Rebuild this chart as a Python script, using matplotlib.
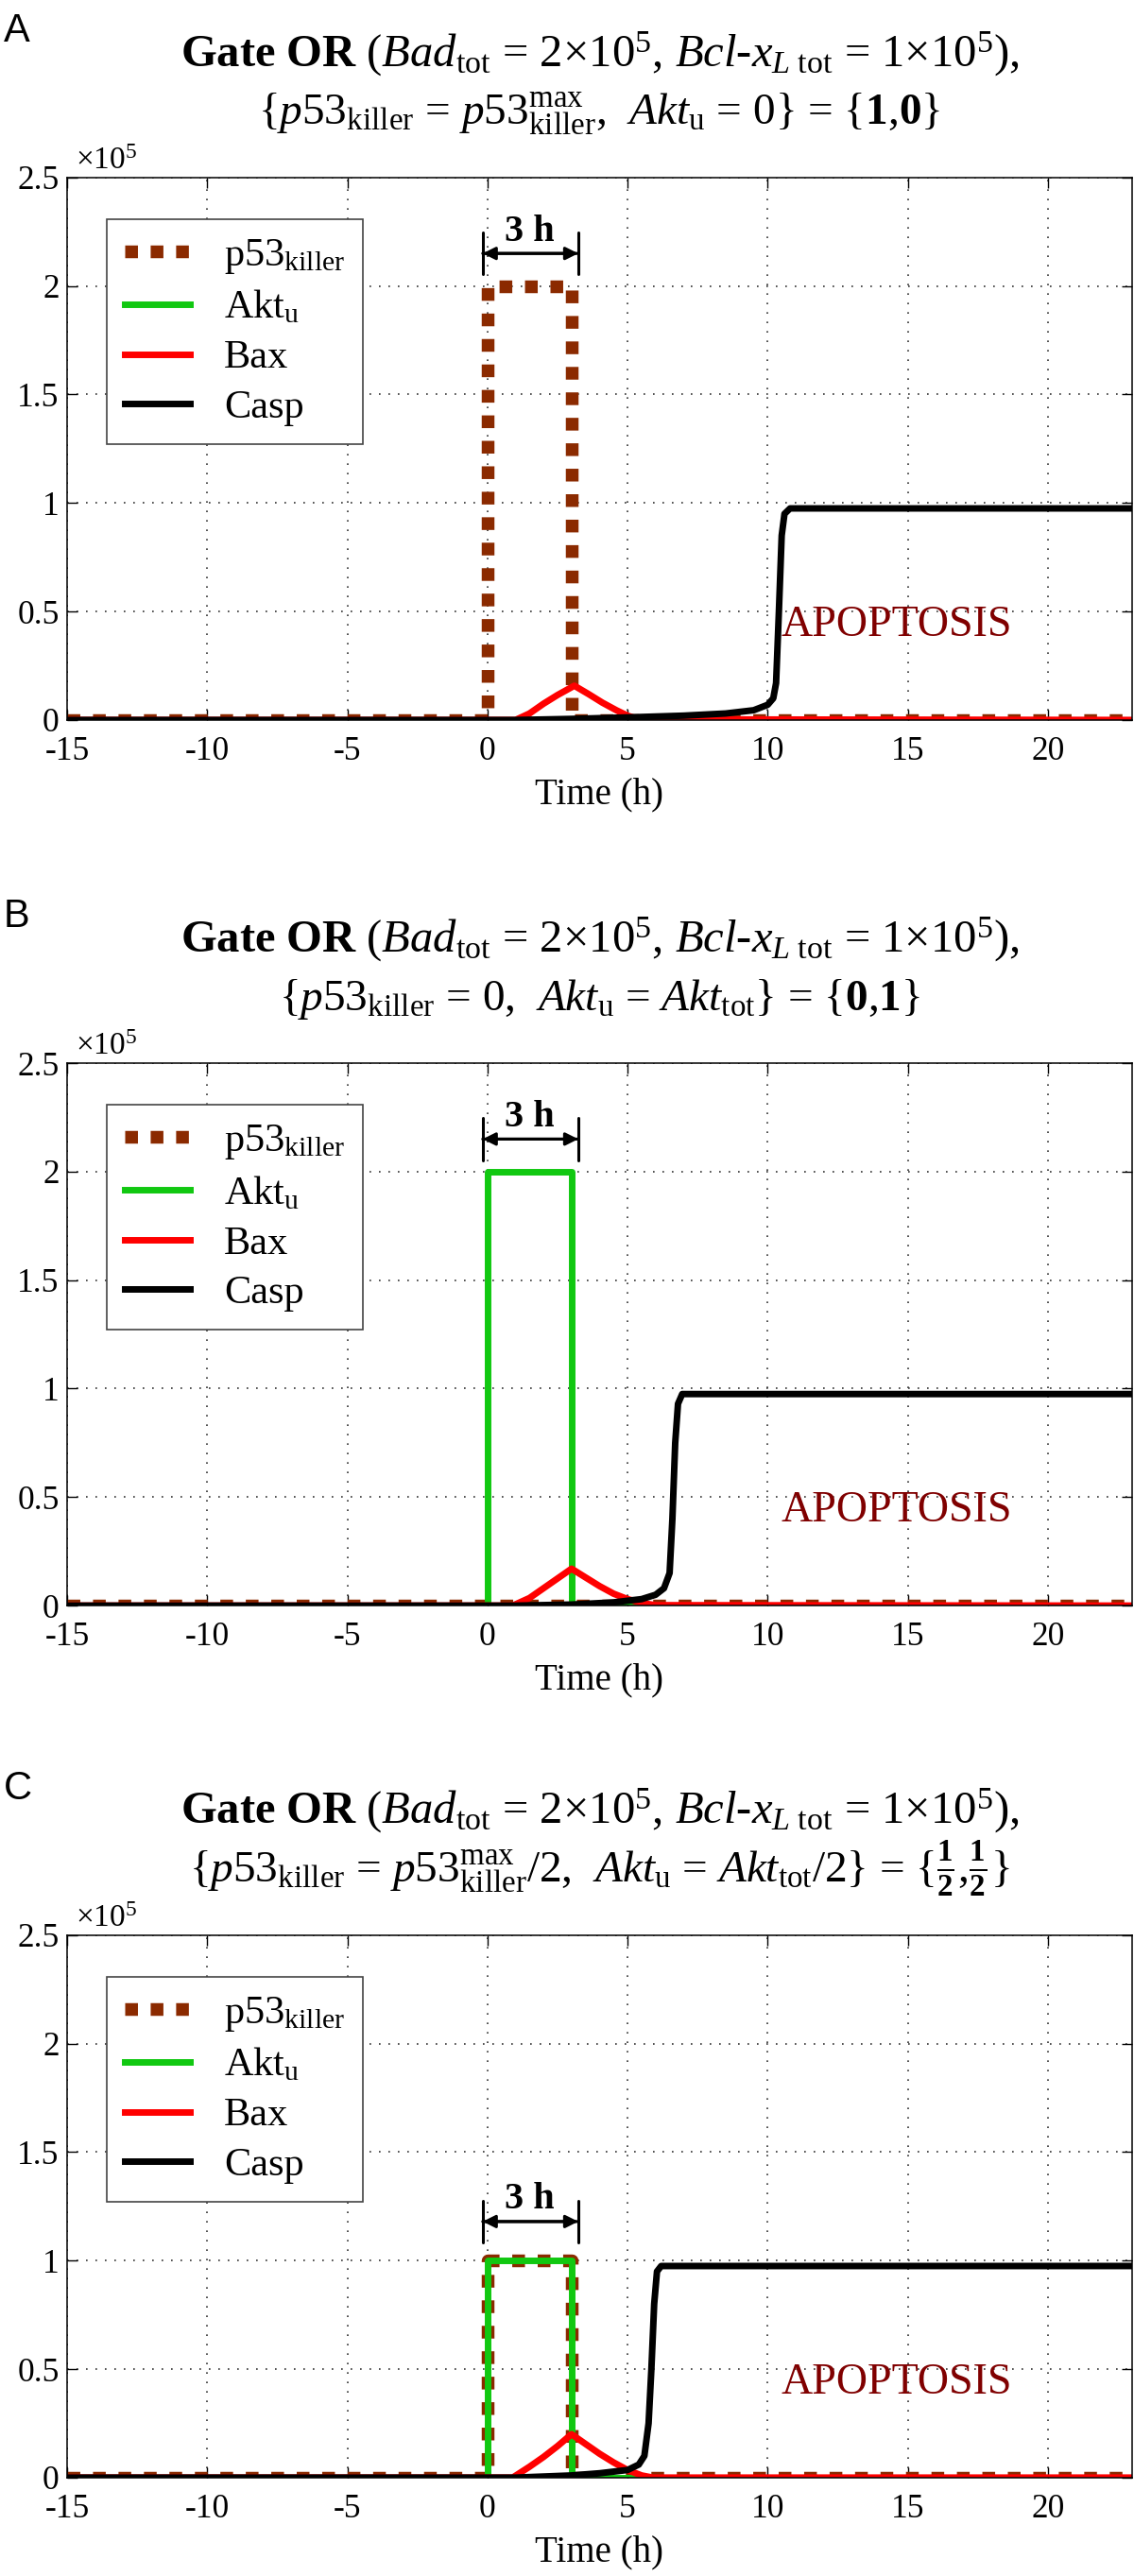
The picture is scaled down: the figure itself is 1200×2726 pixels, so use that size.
import matplotlib
matplotlib.use('Agg')
import matplotlib.pyplot as plt
from matplotlib.ticker import FuncFormatter, MultipleLocator

SERIF = 'Liberation Serif'
plt.rcParams['font.family'] = [SERIF, 'DejaVu Serif']
plt.rcParams['mathtext.fontset'] = 'custom'
plt.rcParams['mathtext.rm'] = SERIF
plt.rcParams['mathtext.it'] = SERIF + ':italic'
plt.rcParams['mathtext.bf'] = SERIF + ':bold'
plt.rcParams['axes.unicode_minus'] = False

# time points of the 3 h pulse
t_pulse = [-15, 0, 0, 3, 3, 23]

# p53 killer pulse per panel
p53_A = [0, 0, 2e5, 2e5, 0, 0]
p53_B = [0, 0, 0, 0, 0, 0]
p53_C = [0, 0, 1e5, 1e5, 0, 0]

# Akt_u pulse per panel
akt_A = [0, 0, 0, 0, 0, 0]
akt_B = [0, 0, 2e5, 2e5, 0, 0]
akt_C = [0, 0, 1e5, 1e5, 0, 0]

# Bax
t_bax_A = [-15, 1.0, 1.5, 2.0, 2.5, 3.1, 3.6, 4.1, 4.6, 5.0, 5.4, 23]
bax_A = [0, 0, 0.03e5, 0.075e5, 0.115e5, 0.158e5, 0.12e5, 0.08e5, 0.045e5, 0.02e5, 0.003e5, 0]
t_bax_B = [-15, 0.9, 1.5, 2.0, 2.5, 3.0, 3.5, 4.0, 4.5, 5.0, 5.5, 6.0, 23]
bax_B = [0, 0, 0.035e5, 0.08e5, 0.125e5, 0.17e5, 0.13e5, 0.09e5, 0.055e5, 0.03e5, 0.012e5, 0.002e5, 0]
t_bax_C = [-15, 0.9, 1.5, 2.0, 2.5, 3.0, 3.5, 4.0, 4.5, 5.0, 5.5, 5.9, 23]
bax_C = [0, 0, 0.05e5, 0.095e5, 0.145e5, 0.2e5, 0.155e5, 0.11e5, 0.07e5, 0.035e5, 0.01e5, 0, 0]

# Casp
t_casp_A = [-15, 1, 3, 5, 7, 8.5, 9.5, 10.0, 10.2, 10.3, 10.4, 10.5, 10.6, 10.8, 23]
casp_A = [0, 0, 0.005e5, 0.012e5, 0.02e5, 0.03e5, 0.045e5, 0.07e5, 0.1e5, 0.17e5, 0.5e5, 0.85e5, 0.95e5, 0.975e5, 0.975e5]
t_casp_B = [-15, 1, 3, 4.5, 5.5, 6.0, 6.3, 6.5, 6.6, 6.7, 6.8, 6.95, 23]
casp_B = [0, 0, 0.005e5, 0.015e5, 0.03e5, 0.05e5, 0.08e5, 0.15e5, 0.4e5, 0.75e5, 0.93e5, 0.975e5, 0.975e5]
t_casp_C = [-15, 1, 3, 4, 5, 5.4, 5.6, 5.75, 5.85, 5.95, 6.05, 6.2, 23]
casp_C = [0, 0, 0.01e5, 0.02e5, 0.035e5, 0.06e5, 0.1e5, 0.25e5, 0.5e5, 0.8e5, 0.95e5, 0.975e5, 0.975e5]

letters = ['A', 'B', 'C']
line1 = r'$\mathbf{Gate\ OR}$ ($Bad_{\mathrm{tot}}$ = 2$\times$10$^5$, $Bcl$-$x_{L\ \mathrm{tot}}$ = 1$\times$10$^5$),'
line2 = [
    r'{$p$53$_{\mathrm{killer}}$ = $p$53$^{\mathrm{max}}_{\mathrm{killer}}$,  $Akt_{\mathrm{u}}$ = 0} = {$\mathbf{1}$,$\mathbf{0}$}',
    r'{$p$53$_{\mathrm{killer}}$ = 0,  $Akt_{\mathrm{u}}$ = $Akt_{\mathrm{tot}}$} = {$\mathbf{0}$,$\mathbf{1}$}',
    r'{$p$53$_{\mathrm{killer}}$ = $p$53$^{\mathrm{max}}_{\mathrm{killer}}$/2,  $Akt_{\mathrm{u}}$ = $Akt_{\mathrm{tot}}$/2} = {$\frac{\mathbf{1}}{\mathbf{2}}$,$\frac{\mathbf{1}}{\mathbf{2}}$}',
]
arrow_y = [2.15e5, 2.15e5, 1.18e5]

panels = [
    (p53_A, akt_A, t_bax_A, bax_A, t_casp_A, casp_A),
    (p53_B, akt_B, t_bax_B, bax_B, t_casp_B, casp_B),
    (p53_C, akt_C, t_bax_C, bax_C, t_casp_C, casp_C),
]
bottoms = [0.7205, 0.3767, 0.0382]

fig = plt.figure(figsize=(12, 27.26), dpi=100)

for i, (p53, akt, tb, bax, tc, casp) in enumerate(panels):
    ax = fig.add_axes([0.0592, bottoms[i], 0.939, 0.2106])
    ax.plot(t_pulse, p53, color='#8b2a00', lw=9.7, ls=(0, (1, 1)), dash_capstyle='butt',
            label=r'p53$_{\mathrm{killer}}$')
    ax.plot(t_pulse, akt, color='#11c811', lw=5, label=r'Akt$_{\mathrm{u}}$')
    ax.plot(tb, bax, color='#ff0000', lw=5, label='Bax')
    ax.plot(tc, casp, color='black', lw=5, label='Casp')

    ax.set_xlim(-15, 23)
    ax.set_ylim(0, 2.5e5)
    ax.xaxis.set_major_locator(MultipleLocator(5))
    ax.yaxis.set_major_locator(MultipleLocator(0.5e5))
    ax.yaxis.set_major_formatter(FuncFormatter(lambda v, p: f'{v / 1e5:g}'))
    ax.tick_params(direction='in', top=True, right=True, length=8, width=1, labelsize=25.5,
                   labelfontfamily=SERIF)
    ax.tick_params(axis='x', pad=12)
    ax.tick_params(axis='y', pad=6)
    ax.grid(True, color='#333333', lw=1.2, ls=(0, (1, 5)))
    for s in ax.spines.values():
        s.set_linewidth(1.1)
    ax.set_xlabel('Time (h)', fontsize=28, labelpad=8, family=SERIF)

    ax.text(0.008, 1.003, r'$\times$10$^5$', transform=ax.transAxes, fontsize=24,
            family=SERIF, va='bottom', ha='left')

    leg = ax.legend(loc='upper left', bbox_to_anchor=(0.0373, 0.923), borderaxespad=0,
                    prop={'family': SERIF, 'size': 30.5}, handlelength=1.62,
                    handletextpad=0.85, labelspacing=0.33, borderpad=0.45,
                    fancybox=False, framealpha=1, edgecolor='#444444')
    leg.get_frame().set_linewidth(1.2)

    # 3 h arrow
    ay = arrow_y[i]
    ax.annotate('', xy=(t_pulse[1] - 0.17, ay), xytext=(t_pulse[3] + 0.24, ay),
                arrowprops=dict(arrowstyle='<|-|>', color='black', lw=2.2, mutation_scale=20,
                                shrinkA=0, shrinkB=0))
    ax.annotate('', xy=(t_pulse[1] - 0.17, ay), xytext=(t_pulse[3] + 0.24, ay),
                arrowprops=dict(arrowstyle='|-|, widthA=0.8, widthB=0.8', color='black', lw=2.2,
                                mutation_scale=20, shrinkA=0, shrinkB=0))
    ax.text(1.5, ay + 0.02e5, '3 h', fontsize=29, fontweight='bold', family=SERIF,
            ha='center', va='bottom')

    ax.text(14.6, 0.435e5, 'APOPTOSIS', color='#800000', fontsize=33, family=SERIF,
            ha='center', va='center')

    ax.text(0.5, 1.205, line1, transform=ax.transAxes, fontsize=35, family=SERIF,
            ha='center', va='baseline')
    ax.text(0.5, 1.098, line2[i], transform=ax.transAxes, fontsize=34, family=SERIF,
            ha='center', va='baseline')
    ax.text(-0.0595, 1.25, letters[i], transform=ax.transAxes, fontsize=30,
            family='Liberation Sans', ha='left', va='baseline')

fig.savefig('out.png', dpi=100)
